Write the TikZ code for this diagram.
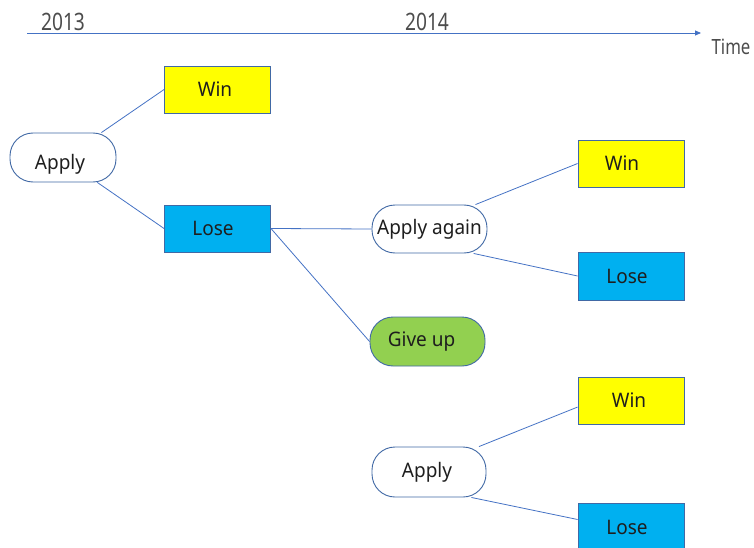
\documentclass[tikz,border=0pt]{standalone}
\usepackage{fontspec}
\setmainfont{Noto Sans}[FakeStretch=0.95]
\newfontfamily\yearfont{Noto Sans}[FakeStretch=0.8]
\usetikzlibrary{arrows.meta}
\definecolor{lineblue}{RGB}{68,114,196}
\definecolor{edgeblue}{RGB}{65,105,165}
\definecolor{winyellow}{RGB}{255,255,0}
\definecolor{loseblue}{RGB}{0,176,240}
\definecolor{giveupgreen}{RGB}{146,208,80}
\definecolor{txt}{RGB}{30,30,30}
\begin{document}
\begin{tikzpicture}[x=1pt,y=-1pt,
  base/.style={draw=edgeblue,line width=0.9pt,inner sep=0pt,text=txt,
    font=\fontsize{20}{23}\selectfont},
  pill/.style={base,rounded corners=23pt,minimum width=#1,minimum height=49pt},
  pill/.default=114pt,
  box/.style={base,minimum width=106pt,minimum height=47pt},
  winbox/.style={box,fill=winyellow},
  losebox/.style={box,fill=loseblue},
  conn/.style={draw=lineblue,line width=0.8pt},
  yearlbl/.style={text=black!70,font=\yearfont\fontsize{24}{26}\selectfont,inner sep=0pt},
]
\useasboundingbox (0,0) rectangle (754,548);
% timeline
\coordinate (tstart) at (27,33);
\coordinate (tend) at (701,33);
\draw[conn,-{Triangle[length=6pt,width=5pt]}] (tstart) -- (tend);
\node[yearlbl] (y2013) at (63,22) {2013};
\node[yearlbl] (y2014) at (427,22) {2014};
\node[yearlbl,font=\yearfont\fontsize{21}{24}\selectfont] (time) at (731,47) {Time};
% nodes
\node[pill=106pt,fill=white] (apply1) at (63,157.5) {\raisebox{-12.5pt}[0pt][0pt]{Apply}\hspace*{6pt}};
\node[winbox] (win1) at (217.5,89.5) {Win\hspace*{5pt}};
\node[losebox] (lose1) at (217.5,228.5) {Lose\hspace*{9pt}};
\node[pill=115pt,fill=white,minimum height=48pt] (again) at (429.5,229) {Apply again};
\node[pill=115pt,fill=giveupgreen] (giveup) at (427.5,341.5) {Give up\hspace*{12pt}};
\node[winbox] (win2) at (631,163.5) {Win\hspace*{18pt}};
\node[losebox,minimum height=48pt] (lose2) at (631,276) {Lose\hspace*{8pt}};
\node[pill=114pt,fill=white,minimum height=50pt] (apply3) at (429,472) {Apply\hspace*{4pt}};
\node[winbox] (win3) at (631,400.5) {Win\hspace*{4pt}};
\node[losebox,minimum height=48pt] (lose3) at (631,527) {Lose\hspace*{8pt}};
% connectors
\draw[conn] (apply1.33.5) -- (win1.west);
\draw[conn] (apply1.-36.6) -- (lose1.west);
\draw[conn] (lose1.east) -- (again.west);
\draw[conn] (lose1.east) -- (giveup.west);
\draw[conn] (again.28.8) -- (win2.west);
\draw[conn] (again.-29.2) -- (lose2.west);
\draw[conn] (apply3.27.6) -- (win3.187.5);
\draw[conn] (apply3.-31.4) -- (lose3.172.5);
\end{tikzpicture}
\end{document}
